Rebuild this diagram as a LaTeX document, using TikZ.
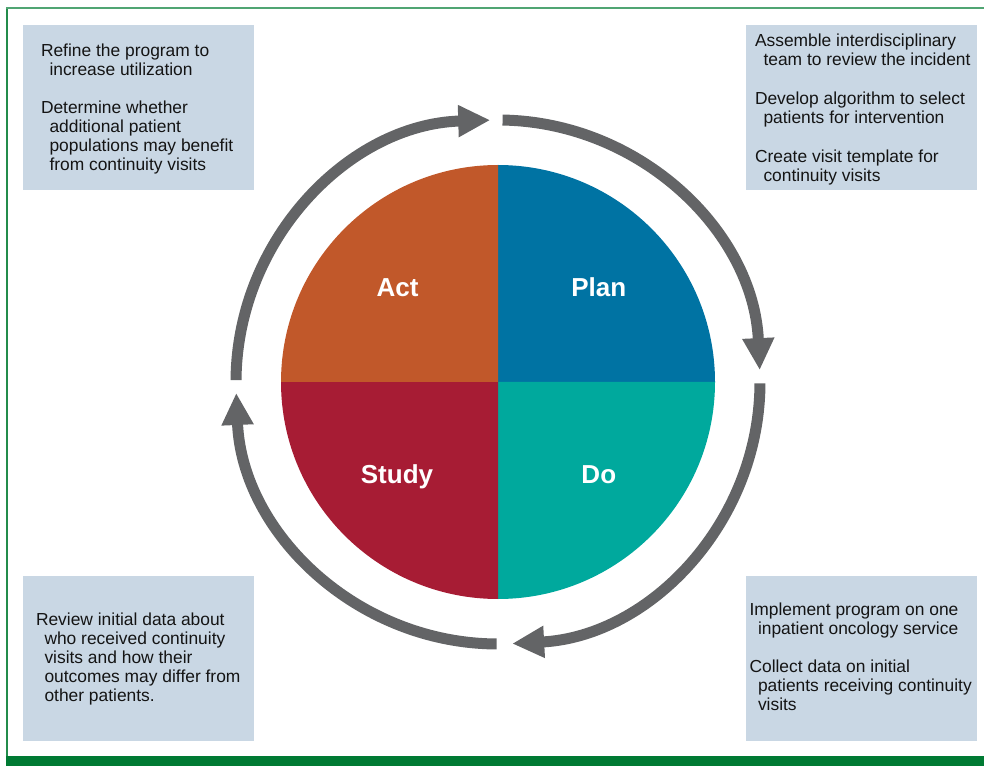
\documentclass[tikz,border=0pt]{standalone}
\usepackage{fontspec}
\setmainfont{Liberation Sans}
\usepackage{tikz}
\usetikzlibrary{positioning, arrows.meta}
\definecolor{actc}{RGB}{193,88,42}
\definecolor{planc}{RGB}{0,115,163}
\definecolor{studyc}{RGB}{167,28,52}
\definecolor{doc}{RGB}{0,169,157}
\definecolor{boxc}{RGB}{201,215,228}
\definecolor{ringc}{RGB}{99,100,102}
\definecolor{topc}{RGB}{80,165,115}
\definecolor{sidec}{RGB}{35,140,75}
\definecolor{barc}{RGB}{0,122,51}
\tikzstyle{cyc} = [line width=11pt, draw=ringc, -{Triangle[length=32pt,width=30pt]}]
\tikzstyle{lbl} = [text=white, font=\fontsize{26}{30}\selectfont\bfseries, anchor=base]
\tikzstyle{infobox} = [fill=boxc, minimum width=231pt, minimum height=165pt, inner sep=0pt]
\tikzstyle{infotext} = [align=left, inner sep=0pt, text=black!92, font=\fontsize{17.4}{19}\selectfont]
\newcommand{\ind}{\hspace*{8.5pt}}

\begin{document}
\begin{tikzpicture}[x=1pt, y=1pt]
		\useasboundingbox (0,0) rectangle (984,766);
		\fill[barc] (6,0) rectangle (984,10.5);
		\draw[sidec, line width=1.3pt] (7,10.5) -- (7,758);
		\draw[topc, line width=1.5pt] (6.4,758) -- (984,758);
		\coordinate (c) at (498,384);
		\fill[planc] (c) -- ++(90:217pt) arc[start angle=90, end angle=0, radius=217pt] -- cycle;
		\fill[doc] (c) -- ++(0:217pt) arc[start angle=0, end angle=-90, radius=217pt] -- cycle;
		\fill[studyc] (c) -- ++(-90:217pt) arc[start angle=-90, end angle=-180, radius=217pt] -- cycle;
		\fill[actc] (c) -- ++(180:217pt) arc[start angle=180, end angle=90, radius=217pt] -- cycle;
		\node (act) [lbl, xshift=-100.5pt, yshift=85pt] at (c) {Act};
		\node (plan) [lbl, xshift=100.7pt, yshift=85pt] at (c) {Plan};
		\node (study) [lbl, xshift=-101pt, yshift=-101pt] at (c) {Study};
		\node (do) [lbl, xshift=100.8pt, yshift=-101pt] at (c) {Do};
		\draw[cyc] (c) ++(89:262pt) arc[start angle=89, end angle=2.6, radius=262pt];
		\draw[cyc] (c) ++(-0.3:262pt) arc[start angle=-0.3, end angle=-86.9, radius=262pt];
		\draw[cyc] (c) ++(-90.3:262pt) arc[start angle=-90.3, end angle=-177.6, radius=262pt];
		\draw[cyc] (c) ++(179.6:262pt) arc[start angle=179.6, end angle=91.7, radius=262pt];
		\node (tlbox) [infobox] at (138.5,658.5) {};
		\node (trbox) [infobox] at (861.5,658.5) {};
		\node (blbox) [infobox] at (138.5,107.5) {};
		\node (brbox) [infobox] at (861.5,107.5) {};
		\node (tltext) [infotext, below right=18.5pt and 18pt of tlbox.north west] {Refine the program to\\\ind increase utilization\\[19pt]Determine whether\\\ind additional patient\\\ind populations may benefit\\\ind from continuity visits};
		\node (trtext) [infotext, below right=8.5pt and 9pt of trbox.north west] {Assemble interdisciplinary\\\ind team to review the incident\\[20pt]Develop algorithm to select\\\ind patients for intervention\\[20pt]Create visit template for\\\ind continuity visits};
		\node (bltext) [infotext, below right=36.5pt and 13pt of blbox.north west] {Review initial data about\\\ind who received continuity\\\ind visits and how their\\\ind outcomes may differ from\\\ind other patients.};
		\node (brtext) [infotext, below right=26.5pt and 3.5pt of brbox.north west] {Implement program on one\\\ind inpatient oncology service\\[19pt]Collect data on initial\\\ind patients receiving continuity\\\ind visits};
\end{tikzpicture}
\end{document}
